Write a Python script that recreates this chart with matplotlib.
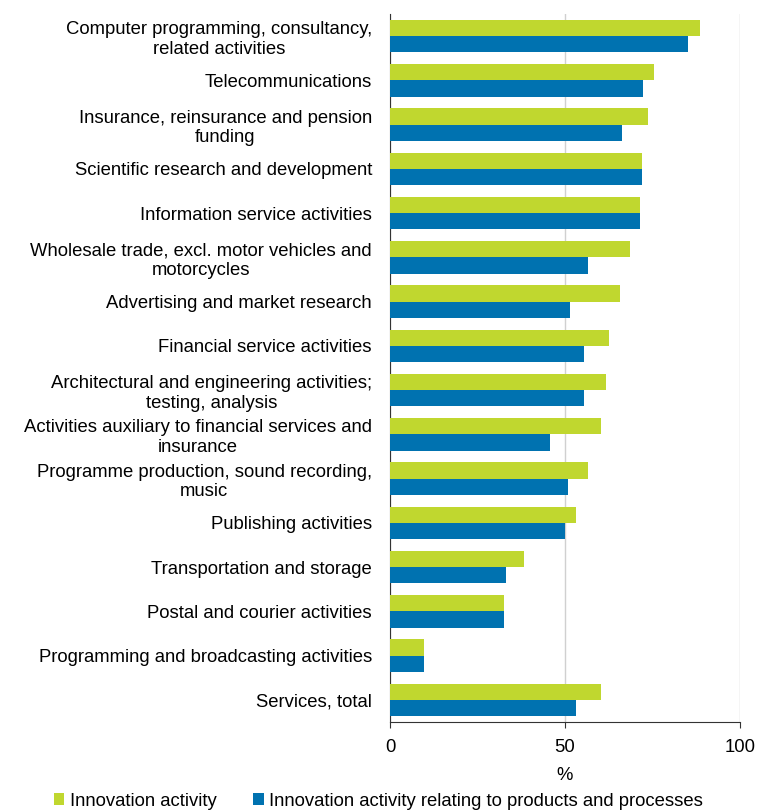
import numpy as np
import matplotlib
matplotlib.use("Agg")
import matplotlib.pyplot as plt

plt.rcParams['font.family'] = ['Liberation Sans', 'DejaVu Sans']

categories = [
    "Computer programming, consultancy,\nrelated activities",
    "Telecommunications",
    "Insurance, reinsurance and pension\nfunding",
    "Scientific research and development",
    "Information service activities",
    "Wholesale trade, excl. motor vehicles and\nmotorcycles",
    "Advertising and market research",
    "Financial service activities",
    "Architectural and engineering activities;\ntesting, analysis",
    "Activities auxiliary to financial services and\ninsurance",
    "Programme production, sound recording,\nmusic",
    "Publishing activities",
    "Transportation and storage",
    "Postal and courier activities",
    "Programming and broadcasting activities",
    "Services, total",
]
innovation = [88.6, 75.5, 73.6, 71.9, 71.3, 68.6, 65.8, 62.7, 61.7, 60.4,
              56.7, 53.1, 38.4, 32.5, 9.7, 60.4]
products_processes = [85.0, 72.3, 66.4, 71.9, 71.3, 56.7, 51.3, 55.4, 55.4, 45.8,
                      50.8, 49.9, 33.0, 32.5, 9.7, 53.1]
series_names = ["Innovation activity",
                "Innovation activity relating to products and processes"]
xticks = [0, 50, 100]

green = "#C0D72F"
blue = "#0072B0"
fs = 13.3

fig = plt.figure(figsize=(7.57, 8.10), dpi=100)
ax = fig.add_axes([390 / 757, 1 - 722 / 810, 350 / 757, 708 / 810])

y = np.arange(len(categories))
h = 0.37
ax.barh(y - h / 2, innovation, height=h, color=green, label=series_names[0], zorder=3)
ax.barh(y + h / 2, products_processes, height=h, color=blue, label=series_names[1], zorder=3)

ax.set_ylim(len(categories) - 0.5, -0.5)
ax.set_xlim(0, 100)
ax.set_yticks(y)
ax.set_yticklabels(categories, fontsize=fs, linespacing=1.22, multialignment='center')
ax.tick_params(axis='y', length=0, pad=13)
ax.set_xticks(xticks)
ax.tick_params(axis='x', labelsize=fs, length=4, color="#333333", pad=8)
ax.set_xlabel("%", fontsize=fs, labelpad=8)

ax.grid(axis='x', color="#d0d0d0", linewidth=1, zorder=0)
for s in ["top", "right"]:
    ax.spines[s].set_visible(False)
ax.spines["left"].set_color("#333333")
ax.spines["bottom"].set_color("#333333")

fig.legend(loc="lower center", bbox_to_anchor=(0.5, -0.02), ncol=2, frameon=False,
           fontsize=fs, handlelength=0.55, handleheight=0.65, handletextpad=0.3,
           columnspacing=2.0)

fig.savefig("out.png", dpi=100)
